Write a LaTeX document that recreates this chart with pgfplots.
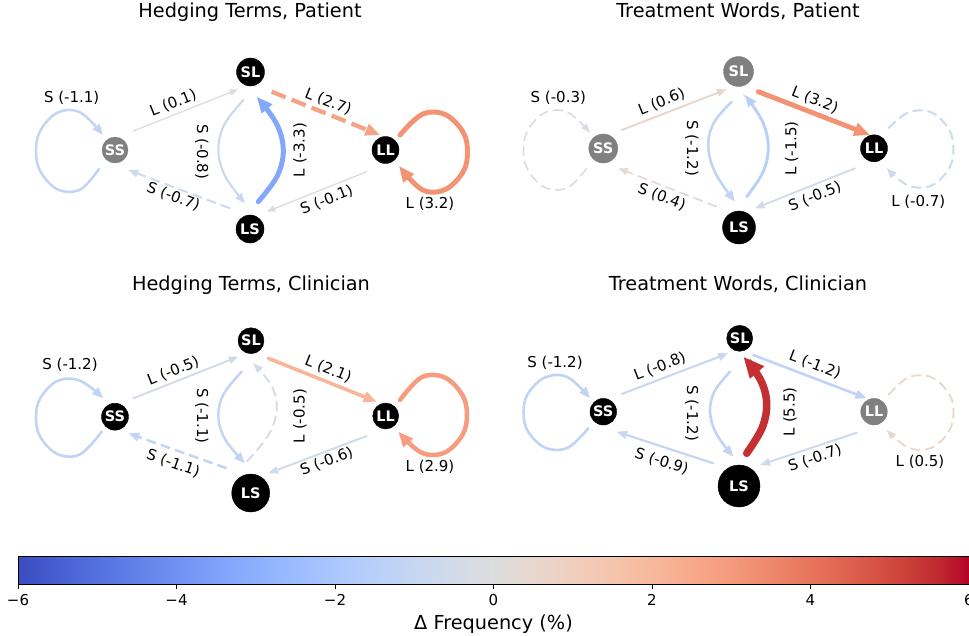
\documentclass[border=0pt]{standalone}
\usepackage{fontspec}
\setmainfont{DejaVu Sans}
\usepackage{pgfplots}
\pgfplotsset{compat=1.18}
\usetikzlibrary{arrows.meta}

\pgfplotsset{
  colormap={coolwarm}{
    rgb=(0.2298,0.2987,0.7537) rgb=(0.2662,0.3531,0.8015) rgb=(0.3039,0.4065,0.8450)
    rgb=(0.3428,0.4588,0.8837) rgb=(0.3830,0.5094,0.9174) rgb=(0.4244,0.5581,0.9456)
    rgb=(0.4667,0.6046,0.9682) rgb=(0.5096,0.6483,0.9848) rgb=(0.5530,0.6889,0.9954)
    rgb=(0.5963,0.7261,0.9998) rgb=(0.6392,0.7596,0.9982) rgb=(0.6813,0.7890,0.9904)
    rgb=(0.7222,0.8140,0.9766) rgb=(0.7615,0.8343,0.9569) rgb=(0.7987,0.8498,0.9317)
    rgb=(0.8335,0.8602,0.9011) rgb=(0.8654,0.8654,0.8654) rgb=(0.8978,0.8489,0.8209)
    rgb=(0.9241,0.8274,0.7745) rgb=(0.9445,0.8009,0.7267) rgb=(0.9589,0.7698,0.6780)
    rgb=(0.9673,0.7341,0.6288) rgb=(0.9700,0.6943,0.5794) rgb=(0.9668,0.6504,0.5303)
    rgb=(0.9580,0.6028,0.4818) rgb=(0.9437,0.5518,0.4342) rgb=(0.9239,0.4973,0.3880)
    rgb=(0.8990,0.4396,0.3432) rgb=(0.8692,0.3783,0.3003) rgb=(0.8346,0.3129,0.2593)
    rgb=(0.7956,0.2413,0.2205) rgb=(0.7525,0.1572,0.1841) rgb=(0.7057,0.0156,0.1502)
  },
  ed/.style={line cap=round, -{Triangle[length=6pt 2, width=4pt 1.8]}},
  dashed edge/.style={line cap=butt, dash pattern=on 10pt off 5pt},
  dashed thick/.style={line cap=butt, dash pattern=on 15pt off 6.5pt},
}

% colour value is (delta+6)/12*1000 on the coolwarm map
\newcommand\edge[3]{\addplot[ed, color of colormap={#1 of coolwarm}, line width=#2pt, #3]}
\newcommand\lab{\fontsize{15}{18}\selectfont}
\newcommand\ttl{\fontsize{19.3}{22}\selectfont}
\newcommand\nd[5]{\addplot[only marks, mark=*, mark size=#3pt, color=#4,
  nodes near coords, point meta=explicit symbolic,
  every node near coord/.style={anchor=center, text=white, font=\fontsize{14.5}{17}\selectfont\bfseries}]
  coordinates {(#1,#2)[#5]};}
\definecolor{ndgray}{RGB}{128,128,128}

\begin{document}
\begin{tikzpicture}
\useasboundingbox (0,0) rectangle (969pt,-636pt);
\begin{axis}[
  at={(0,0)}, anchor=north west,
  width=969pt, height=636pt, scale only axis,
  xmin=0, xmax=969, ymin=0, ymax=636, y dir=reverse,
  hide axis, clip=false,
  every axis plot/.append style={tension=0.6},
]
% ---------- Hedging Terms, Patient
\edge{408.3}{2.5}{smooth} coordinates {(99,169) (80.3,189.5) (57.7,189.5) (40.4,171.5) (36,151) (40.4,130.5) (57.7,112.5) (80.3,112.5) (103,135)};
\edge{508.3}{1.3}{} coordinates {(133.3,131) (238.3,89.3)};
\edge{725}{4.3}{dashed thick} coordinates {(271.7,91.7) (380,135)};
\edge{225}{5.0}{smooth} coordinates {(258.3,201.7) (277.2,176.1) (283.3,150) (276.4,123.5) (256.7,96.7)};
\edge{433.3}{2.1}{smooth} coordinates {(243.3,100) (224.3,124.6) (218.3,150) (225.2,176.2) (245,203.3)};
\edge{441.7}{2.0}{dashed edge} coordinates {(230,208.3) (128.3,170)};
\edge{491.7}{1.3}{} coordinates {(366.7,171.7) (266.7,211.7)};
\edge{766.7}{4.9}{smooth} coordinates {(400,135) (422,114.4) (445,114.4) (463,132) (467.5,152) (463,172) (445,189.6) (422,189.6) (399,166)};
\nd{115}{150}{13}{ndgray}{SS}
\nd{250.5}{72}{14}{black}{SL}
\nd{385.5}{150}{13.5}{black}{LL}
\nd{250}{229}{14}{black}{LS}
\node[font=\ttl, anchor=base] at (axis cs:250,17.5) {Hedging Terms, Patient};
\node[font=\lab] at (axis cs:71.7,97.3) {S (-1.1)};
\node[font=\lab, rotate=21.7] at (axis cs:173.3,103.3) {L (0.1)};
\node[font=\lab, rotate=-21.8] at (axis cs:328.3,101.7) {L (2.7)};
\node[font=\lab, rotate=90] at (axis cs:300,150) {L (-3.3)};
\node[font=\lab, rotate=-90] at (axis cs:201.7,151.7) {S (-0.8)};
\node[font=\lab, rotate=-20.6] at (axis cs:173.3,196.7) {S (-0.7)};
\node[font=\lab, rotate=21.8] at (axis cs:326.7,200) {S (-0.1)};
\node[font=\lab] at (axis cs:430,203.3) {L (3.2)};
% ---------- Treatment Words, Patient
\edge{475}{1.55}{smooth, dashed edge} coordinates {(586.7,168.3) (567.8,187.6) (545.2,187.6) (527.9,170) (523.5,150) (527.9,130) (545.2,112.4) (567.8,112.4) (590,132.7)};
\edge{550}{1.9}{} coordinates {(621.7,130) (726.7,89.3)};
\edge{766.7}{4.9}{} coordinates {(758.3,91.7) (870,135)};
\edge{375}{2.9}{smooth} coordinates {(746.7,196.7) (763.1,171.9) (768.3,146.7) (762.3,121.1) (745,95)};
\edge{400}{2.6}{smooth} coordinates {(731.7,101.7) (713.7,123) (708.3,146.7) (715.4,173) (735,201.7)};
\edge{533.3}{1.65}{dashed edge} coordinates {(716.7,206.7) (618.3,168.3)};
\edge{458.3}{1.8}{} coordinates {(855,168.3) (755,208.3)};
\edge{441.7}{2.0}{smooth, dashed edge} coordinates {(888.3,128.3) (908.5,112.4) (931.5,112.4) (949,129.5) (953.5,149) (949,168.5) (931.5,185.6) (908.5,185.6) (886.7,168.3)};
\nd{603.3}{148.5}{14.5}{ndgray}{SS}
\nd{738.5}{71.5}{15}{ndgray}{SL}
\nd{874}{148.3}{13.5}{black}{LL}
\nd{739}{227.5}{16.5}{black}{LS}
\node[font=\ttl, anchor=base] at (axis cs:738,17.5) {Treatment Words, Patient};
\node[font=\lab] at (axis cs:558.3,97.3) {S (-0.3)};
\node[font=\lab, rotate=21.7] at (axis cs:661.7,101.7) {L (0.6)};
\node[font=\lab, rotate=-21.8] at (axis cs:815,100) {L (3.2)};
\node[font=\lab, rotate=90] at (axis cs:791.7,148.3) {L (-1.5)};
\node[font=\lab, rotate=-90] at (axis cs:691.7,148.3) {S (-1.2)};
\node[font=\lab, rotate=-21.3] at (axis cs:661.7,196.7) {S (0.4)};
\node[font=\lab, rotate=21.8] at (axis cs:815,196.7) {S (-0.5)};
\node[font=\lab] at (axis cs:918.3,201.7) {L (-0.7)};
% ---------- Hedging Terms, Clinician
\edge{400}{2.6}{smooth} coordinates {(101.7,431.7) (80.3,454.2) (57.7,454.2) (40.4,437) (36,417.5) (40.4,398) (57.7,380.8) (80.3,380.8) (103.3,398.3)};
\edge{458.3}{1.8}{} coordinates {(133.3,398.3) (238.3,356.7)};
\edge{675}{3.6}{} coordinates {(268.3,358.3) (376.7,401.7)};
\edge{458.3}{1.8}{smooth, dashed edge} coordinates {(246.7,461.7) (268.4,435.2) (276.7,410) (271.7,386) (253.3,363.3)};
\edge{408.3}{2.5}{smooth} coordinates {(241.7,371.7) (223.7,394) (218.3,416.7) (225.4,439.8) (245,463.3)};
\edge{408.3}{2.5}{dashed edge} coordinates {(226.7,468.3) (128.3,433.3)};
\edge{450}{1.9}{} coordinates {(366.7,436) (268.3,473.3)};
\edge{741.7}{4.5}{smooth} coordinates {(400,400) (421.4,377.4) (444.6,377.4) (462.4,395) (467,415) (462.4,435) (444.6,452.6) (421.4,452.6) (398.3,431.7)};
\nd{115}{416.7}{13.5}{black}{SS}
\nd{251}{340.7}{13}{black}{SL}
\nd{385.7}{416}{13}{black}{LL}
\nd{250.7}{493}{19}{black}{LS}
\node[font=\ttl, anchor=base] at (axis cs:251,290.5) {Hedging Terms, Clinician};
\node[font=\lab] at (axis cs:70,365) {S (-1.2)};
\node[font=\lab, rotate=21.6] at (axis cs:173.3,371) {L (-0.5)};
\node[font=\lab, rotate=-21.8] at (axis cs:328.3,369.3) {L (2.1)};
\node[font=\lab, rotate=90] at (axis cs:300,416) {L (-0.5)};
\node[font=\lab, rotate=-90] at (axis cs:201.7,416) {S (-1.1)};
\node[font=\lab, rotate=-19.6] at (axis cs:173.3,463.3) {S (-1.1)};
\node[font=\lab, rotate=20.8] at (axis cs:326.7,461.7) {S (-0.6)};
\node[font=\lab] at (axis cs:430,466.7) {L (2.9)};
% ---------- Treatment Words, Clinician
\edge{400}{2.6}{smooth} coordinates {(588.3,428.3) (567.8,447.7) (545.2,447.7) (527.9,431.3) (523.5,412.5) (527.9,393.8) (545.2,377.3) (567.8,377.3) (590,398.3)};
\edge{433.3}{2.1}{} coordinates {(621.7,394) (728.3,353.3)};
\edge{400}{2.6}{} coordinates {(753.3,355) (866.7,398.3)};
\edge{958.3}{7.5}{smooth} coordinates {(746.7,453.3) (762.1,427.9) (766.7,403.3) (760.4,379.6) (743.3,356.7)};
\edge{400}{2.6}{smooth} coordinates {(730,371.7) (714.6,391.1) (710,411.7) (716.2,433.6) (733.3,456.7)};
\edge{425}{2.2}{} coordinates {(713.3,463.3) (616.7,431.7)};
\edge{441.7}{2.0}{} coordinates {(856.7,432.7) (760,465)};
\edge{541.7}{1.8}{smooth, dashed edge} coordinates {(888.3,395) (908.5,377.3) (931.5,377.3) (949,393.8) (953.5,412.5) (949,431.3) (931.5,447.7) (908.5,447.7) (886.7,430)};
\nd{603.3}{411.7}{13.3}{black}{SS}
\nd{739.7}{338.3}{13}{black}{SL}
\nd{874}{411.7}{13.3}{ndgray}{LL}
\nd{739}{486}{21}{black}{LS}
\node[font=\ttl, anchor=base] at (axis cs:738,290.5) {Treatment Words, Clinician};
\node[font=\lab] at (axis cs:555,362.7) {S (-1.2)};
\node[font=\lab, rotate=20.9] at (axis cs:660,366.7) {L (-0.8)};
\node[font=\lab, rotate=-21] at (axis cs:815,365) {L (-1.2)};
\node[font=\lab, rotate=90] at (axis cs:790,411.7) {L (5.5)};
\node[font=\lab, rotate=-90] at (axis cs:691.7,413.3) {S (-1.2)};
\node[font=\lab, rotate=-18.1] at (axis cs:661.7,461.7) {S (-0.9)};
\node[font=\lab, rotate=18.5] at (axis cs:815,458.3) {S (-0.7)};
\node[font=\lab] at (axis cs:920,461.7) {L (0.5)};
\end{axis}

% ---------- colour bar
\begin{axis}[
  at={(18pt,-584pt)}, anchor=south west,
  width=951pt, height=28pt, scale only axis,
  xmin=-6, xmax=6, ymin=0, ymax=1,
  ytick=\empty,
  xtick={-6,-4,-2,0,2,4,6},
  xticklabels={−6,−4,−2,0,2,4,6},
  xtick pos=bottom, tick align=outside,
  major tick length=5pt,
  every tick/.style={black, line width=0.8pt},
  axis line style={line width=0.8pt},
  ticklabel style={font=\lab},
  xticklabel style={yshift=-2pt},
  xlabel={Δ Frequency (\%)},
  xlabel style={font=\ttl, yshift=-2pt},
  colormap name=coolwarm,
  point meta min=-6, point meta max=6,
  axis on top,
]
\addplot[surf, shader=interp, point meta=x, mesh/rows=2] coordinates {(-6,0) (6,0) (-6,1) (6,1)};
\end{axis}
\end{tikzpicture}
\end{document}
